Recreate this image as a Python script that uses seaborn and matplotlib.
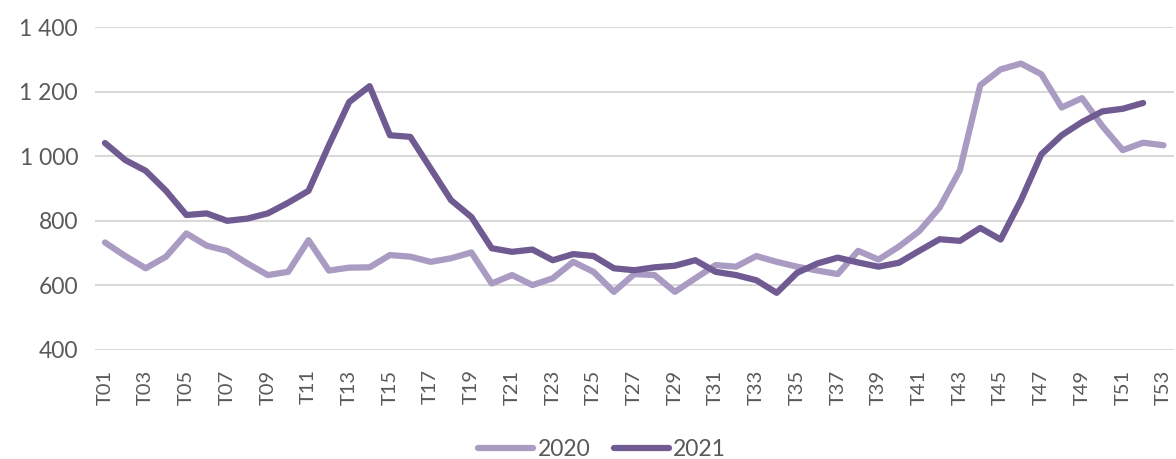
import numpy as np
import pandas as pd
import matplotlib
matplotlib.use("Agg")
import matplotlib.pyplot as plt
import seaborn as sns

# data ------------------------------------------------
weeks = [f"T{i:02d}" for i in range(1, 54)]

vals_2020 = [733, 691, 653, 689, 761, 723, 707, 668, 632, 642,
             740, 646, 655, 656, 694, 689, 673, 684, 702, 606,
             632, 601, 622, 673, 642, 580, 635, 632, 580, 622,
             663, 658, 691, 673, 658, 646, 635, 707, 680, 720,
             768, 841, 957, 1220, 1269, 1287, 1254, 1151, 1180, 1093,
             1019, 1042, 1034]

vals_2021 = [1041, 988, 955, 893, 818, 823, 800, 807, 823, 856,
             893, 1034, 1168, 1217, 1065, 1060, 962, 864, 812, 715,
             704, 711, 678, 697, 691, 653, 647, 656, 661, 678,
             642, 632, 616, 577, 639, 668, 686, 671, 658, 670,
             707, 743, 738, 778, 742, 864, 1006, 1065, 1106, 1139,
             1147, 1165, np.nan]

years = ["2020", "2021"]
colors = {"2020": "#AA9BC3", "2021": "#705A92"}

df = pd.concat([
    pd.DataFrame({"week": weeks, "value": vals_2020, "year": "2020"}),
    pd.DataFrame({"week": weeks, "value": vals_2021, "year": "2021"}),
], ignore_index=True)

# plot -------------------------
sns.set_theme(style="white")
plt.rcParams["font.family"] = ["Lato", "DejaVu Sans"]

fig = plt.figure(figsize=(11.76, 4.59), dpi=100)
ax = fig.add_axes([0.0806, 0.2375, 0.9174, 0.7035])

sns.lineplot(data=df, x="week", y="value", hue="year", hue_order=years,
             palette=colors, linewidth=4.5, ax=ax, sort=False)

ax.set_ylim(400, 1400)
ax.set_yticks(range(400, 1401, 200))
ax.set_yticklabels([f"{v:,}".replace(",", " ") for v in range(400, 1401, 200)])
ax.set_xlim(-0.5, len(weeks) - 0.5)
ax.set_xticks(range(0, len(weeks), 2))
ax.set_xticklabels(weeks[::2], rotation=90)
ax.tick_params(axis="y", length=0, colors="#595959", labelsize=16.5, pad=12)
ax.tick_params(axis="x", length=0, colors="#595959", labelsize=14.5, pad=14)

ax.grid(axis="y", color="#D9D9D9", linewidth=1.5)
ax.set_axisbelow(True)
for s in ax.spines.values():
    s.set_visible(False)
ax.set_xlabel("")
ax.set_ylabel("")

handles, labels = ax.get_legend_handles_labels()
ax.get_legend().remove()
fig.legend(handles, labels, loc="center", bbox_to_anchor=(0.512, 0.02), ncol=2,
           frameon=False, fontsize=16.5, handlelength=2.4, columnspacing=1.0,
           handletextpad=0.2, labelcolor="#595959", borderpad=0)

fig.savefig("out.png", dpi=100)
